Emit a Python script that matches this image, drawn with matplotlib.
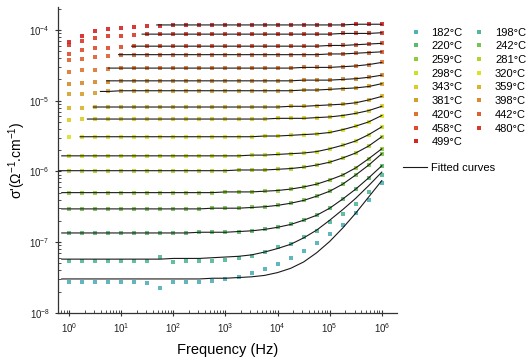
import numpy as np
import matplotlib.pyplot as plt
from matplotlib.lines import Line2D
from matplotlib.ticker import FixedLocator, LogLocator, NullFormatter

plt.rcParams['font.family'] = ['Liberation Sans', 'DejaVu Sans']
plt.rcParams['mathtext.fontset'] = 'custom'
plt.rcParams['mathtext.rm'] = 'Liberation Sans'
plt.rcParams['mathtext.it'] = 'Liberation Sans:italic'

# ------------------------------------------------------------------
# data: log10 of sigma' (S/cm) at each measured frequency
# ------------------------------------------------------------------
FREQ = [1, 1.78, 3.16, 5.62, 10, 17.8, 31.6, 56.2, 100, 178, 316, 562,
        1e3, 1.78e3, 3.16e3, 5.62e3, 1e4, 1.78e4, 3.16e4, 5.62e4,
        1e5, 1.78e5, 3.16e5, 5.62e5, 1e6]

TEMPS = [182, 198, 220, 242, 259, 281, 298, 320, 343, 359, 381, 398, 420, 442, 458, 480, 499]

COLORS = ['#4fb0b8', '#52b898', '#5cba6c', '#78c250', '#8fca3c', '#b0d42c', '#cce024',
          '#dde222', '#dccd22', '#d8b428', '#d4a02c', '#d88a2c', '#dc7430', '#dc6030',
          '#dc4c2c', '#d83a28', '#d42424']

m182 = [-7.57, -7.56, -7.57, -7.57, -7.57, -7.57, -7.58, -7.65, -7.57, -7.56, -7.56, -7.55, -7.52,
        -7.49, -7.44, -7.38, -7.31, -7.23, -7.12, -7.01, -6.89, -6.76, -6.59, -6.40, -6.17]
m198 = [-7.26, -7.26, -7.26, -7.26, -7.26, -7.26, -7.26, -7.21, -7.28, -7.26, -7.26, -7.26, -7.25,
        -7.23, -7.19, -7.14, -7.07, -7.02, -6.93, -6.84, -6.72, -6.60, -6.46, -6.29, -6.05]
m220 = [-6.87, -6.87, -6.87, -6.87, -6.87, -6.87, -6.87, -6.87, -6.87, -6.87, -6.86, -6.86, -6.86,
        -6.85, -6.84, -6.82, -6.79, -6.75, -6.69, -6.62, -6.52, -6.39, -6.25, -6.09, -5.92]
m242 = [-6.53, -6.53, -6.53, -6.53, -6.53, -6.53, -6.53, -6.53, -6.53, -6.53, -6.53, -6.52, -6.52,
        -6.52, -6.51, -6.50, -6.48, -6.45, -6.41, -6.35, -6.28, -6.18, -6.05, -5.91, -5.75]
m259 = [-6.30, -6.30, -6.30, -6.30, -6.30, -6.30, -6.30, -6.30, -6.30, -6.30, -6.30, -6.30, -6.29,
        -6.29, -6.29, -6.28, -6.27, -6.25, -6.22, -6.18, -6.12, -6.05, -5.95, -5.82, -5.68]
m281 = [-5.99, -5.99, -5.99, -5.99, -5.99, -5.99, -5.99, -5.99, -5.99, -5.99, -5.99, -5.99, -5.99,
        -5.98, -5.98, -5.98, -5.97, -5.96, -5.94, -5.91, -5.87, -5.81, -5.74, -5.64, -5.51]
m298 = [-5.78, -5.78, -5.78, -5.78, -5.78, -5.78, -5.78, -5.78, -5.78, -5.78, -5.78, -5.78, -5.78,
        -5.78, -5.77, -5.77, -5.76, -5.75, -5.74, -5.72, -5.68, -5.63, -5.57, -5.48, -5.37]
m320 = [-5.51, -5.51, -5.51, -5.51, -5.51, -5.51, -5.51, -5.51, -5.51, -5.51, -5.51, -5.51, -5.51,
        -5.51, -5.51, -5.50, -5.50, -5.49, -5.48, -5.47, -5.45, -5.41, -5.36, -5.30, -5.21]
m343 = [-5.28, -5.26, -5.26, -5.26, -5.26, -5.26, -5.26, -5.26, -5.26, -5.26, -5.26, -5.26, -5.26,
        -5.26, -5.26, -5.26, -5.25, -5.25, -5.25, -5.24, -5.23, -5.21, -5.18, -5.14, -5.08]
m359 = [-5.11, -5.10, -5.09, -5.09, -5.09, -5.09, -5.09, -5.09, -5.09, -5.09, -5.09, -5.09, -5.09,
        -5.09, -5.09, -5.09, -5.09, -5.08, -5.08, -5.07, -5.06, -5.05, -5.03, -4.99, -4.94]
m381 = [-4.90, -4.90, -4.89, -4.87, -4.86, -4.86, -4.86, -4.86, -4.86, -4.86, -4.86, -4.86, -4.86,
        -4.86, -4.86, -4.86, -4.86, -4.86, -4.85, -4.85, -4.84, -4.83, -4.82, -4.80, -4.76]
m398 = [-4.76, -4.75, -4.74, -4.73, -4.72, -4.72, -4.72, -4.72, -4.72, -4.72, -4.72, -4.72, -4.72,
        -4.72, -4.72, -4.72, -4.72, -4.72, -4.71, -4.71, -4.71, -4.70, -4.69, -4.67, -4.64]
m420 = [-4.59, -4.57, -4.56, -4.55, -4.54, -4.54, -4.54, -4.54, -4.54, -4.54, -4.54, -4.54, -4.54,
        -4.54, -4.54, -4.54, -4.54, -4.54, -4.53, -4.53, -4.53, -4.52, -4.51, -4.49, -4.46]
m442 = [-4.43, -4.41, -4.39, -4.37, -4.36, -4.35, -4.35, -4.35, -4.35, -4.35, -4.35, -4.35, -4.35,
        -4.35, -4.35, -4.35, -4.35, -4.35, -4.35, -4.35, -4.34, -4.34, -4.33, -4.32, -4.31]
m458 = [-4.34, -4.29, -4.26, -4.25, -4.24, -4.23, -4.23, -4.23, -4.23, -4.23, -4.23, -4.23, -4.23,
        -4.23, -4.23, -4.23, -4.23, -4.23, -4.23, -4.23, -4.22, -4.22, -4.21, -4.20, -4.19]
m480 = [-4.22, -4.15, -4.12, -4.09, -4.08, -4.07, -4.06, -4.06, -4.06, -4.06, -4.06, -4.06, -4.06,
        -4.06, -4.06, -4.06, -4.06, -4.06, -4.06, -4.06, -4.06, -4.05, -4.05, -4.05, -4.04]
m499 = [-4.17, -4.08, -4.02, -3.99, -3.98, -3.96, -3.95, -3.94, -3.93, -3.93, -3.93, -3.93, -3.93,
        -3.93, -3.93, -3.93, -3.93, -3.93, -3.93, -3.93, -3.93, -3.93, -3.92, -3.92, -3.92]

MEASURED = [m182, m198, m220, m242, m259, m281, m298, m320, m343, m359, m381, m398,
            m420, m442, m458, m480, m499]

# fitted curves (log10 sigma'); None where no curve is drawn
f182 = [-7.52, -7.52, -7.52, -7.52, -7.52, -7.52, -7.52, -7.52, -7.52, -7.52, -7.52, -7.51, -7.51,
        -7.50, -7.49, -7.47, -7.43, -7.37, -7.28, -7.15, -6.99, -6.80, -6.59, -6.36, -6.13]
f198 = [-7.24, -7.24, -7.24, -7.24, -7.24, -7.24, -7.24, -7.24, -7.23, -7.23, -7.23, -7.22, -7.21,
        -7.20, -7.18, -7.14, -7.09, -7.03, -6.94, -6.83, -6.69, -6.54, -6.38, -6.20, -6.01]
f320 = [None, -5.51] + m320[2:]
f343 = [None, None] + m343[2:]
f359 = [None, None] + m359[2:]
f381 = [None, None, None, -4.87] + m381[4:]
f398 = [None, None, None, -4.72] + m398[4:]
f420 = [None, None, None, -4.54] + m420[4:]
f442 = [None, None, None, None, -4.35] + m442[5:]
f458 = [None, None, None, None, None] + m458[5:]
f480 = [None, None, None, None, None, None] + m480[6:]
f499 = [None, None, None, None, None, None, None, -3.93] + m499[8:]

FITTED = [f182, f198, m220, m242, m259, m281, m298, f320, f343, f359, f381, f398,
          f420, f442, f458, f480, f499]
# frequency (Hz) where each fitted curve begins
FIT_START = [0.72, 0.72, 0.72, 0.72, 0.72, 0.63, 0.72, 1.62, 2.24, 2.9, 3.98, 5.25,
             5.62, 8.9, 15.8, 25.1, 47.9]

X_TICKS = [1, 10, 100, 1e3, 1e4, 1e5, 1e6]
Y_TICKS = [1e-8, 1e-7, 1e-6, 1e-5, 1e-4]

# ------------------------------------------------------------------
fig = plt.figure(figsize=(5.29, 3.63), dpi=100)
ax = fig.add_axes([0.110, 0.138, 0.640, 0.843])

freq = np.array(FREQ)
for vals, fit, f0, col in zip(MEASURED, FITTED, FIT_START, COLORS):
    ax.plot(freq, 10 ** np.array(vals), 's', ms=3.3, mew=0, color=col, alpha=0.9, zorder=2)
    idx = [i for i, v in enumerate(fit) if v is not None]
    fx = [f0] + [FREQ[i] for i in idx]
    fy = [fit[idx[0]]] + [fit[i] for i in idx]
    ax.plot(fx, 10 ** np.array(fy), '-', color='#1a1a1a', lw=0.8, zorder=3)

ax.set_xscale('log')
ax.set_yscale('log')
ax.set_xlim(10 ** -0.211, 10 ** 6.287)
ax.set_ylim(1e-8, 10 ** -3.675)

ax.xaxis.set_major_locator(FixedLocator(X_TICKS))
ax.yaxis.set_major_locator(FixedLocator(Y_TICKS))
ax.xaxis.set_minor_locator(LogLocator(base=10, subs=np.arange(2, 10), numticks=12))
ax.yaxis.set_minor_locator(LogLocator(base=10, subs=np.arange(2, 10), numticks=12))
ax.xaxis.set_minor_formatter(NullFormatter())
ax.yaxis.set_minor_formatter(NullFormatter())

for s in ['top', 'right']:
    ax.spines[s].set_visible(False)
for s in ['left', 'bottom']:
    ax.spines[s].set_linewidth(0.9)
    ax.spines[s].set_color('#333333')
ax.tick_params(which='major', direction='inout', length=5, width=0.8, labelsize=7, colors='#333333')
ax.tick_params(which='minor', direction='in', length=2.5, width=0.6, colors='#333333')
ax.tick_params(axis='both', labelcolor='#222222')

ax.set_xlabel('Frequency (Hz)', fontsize=10.5, labelpad=6)
ax.set_ylabel("σ'(Ω$^{-1}$.cm$^{-1}$)", fontsize=10, labelpad=1)

# legend: temperatures, two columns
order = [0, 2, 4, 6, 8, 10, 12, 14, 16, 1, 3, 5, 7, 9, 11, 13, 15]
handles = [Line2D([], [], ls='none', marker='s', ms=3.3, mew=0, color=COLORS[i]) for i in order]
labels = [f'{TEMPS[i]}°C' for i in order]
leg = ax.legend(handles, labels, ncol=2, frameon=False, fontsize=8, loc='upper left',
                bbox_to_anchor=(0.778, 0.924), bbox_transform=fig.transFigure,
                borderpad=0, borderaxespad=0, handlelength=0.8, handletextpad=1.0,
                columnspacing=1.1, labelspacing=0.335)
ax.add_artist(leg)

fit_handle = Line2D([], [], color='#1a1a1a', lw=0.8)
ax.legend([fit_handle], ['Fitted curves'], frameon=False, fontsize=8, loc='upper left',
          bbox_to_anchor=(0.762, 0.552), bbox_transform=fig.transFigure,
          borderpad=0, borderaxespad=0, handlelength=2.16, handletextpad=0.36)

fig.savefig('out.png', dpi=100)
